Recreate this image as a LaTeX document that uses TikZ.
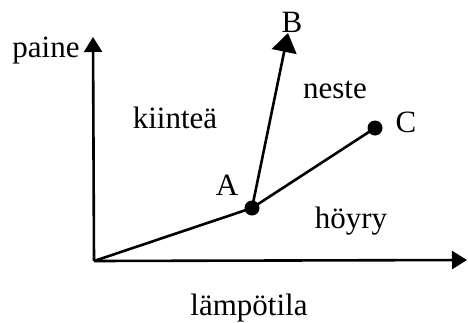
\documentclass[tikz,border=0pt]{standalone}
\usepackage{fontspec}
\setmainfont{Liberation Serif}
\usetikzlibrary{arrows.meta}
\begin{document}
\begin{tikzpicture}[x=1pt,y=-1pt,
  lbl/.style={anchor=base,inner sep=0pt,font=\fontsize{31}{36}\selectfont},
  dot/.style={circle,fill=black,inner sep=0pt,minimum size=15pt},
  ax/.style={line width=2.6pt,-{Triangle[length=15pt,width=18pt]}},
  ln/.style={line width=2.6pt}]
\useasboundingbox (0,0) rectangle (468,322);
\coordinate (O) at (94,261);
\coordinate (Ytop) at (93,37);
\coordinate (Xend) at (467,260);
\coordinate (Btip) at (288,33);
\node[dot] (A) at (252,208) {};
\node[dot] (C) at (375,128) {};
\draw[ax] (O) -- (Ytop);
\draw[ax] (O) -- (Xend);
\draw[ln] (O) -- (A.center);
\draw[ln] (A.center) -- (C.center);
\draw[line width=2.6pt,-{Triangle[length=19pt,width=25pt]}] (A.center) -- (Btip);
\node[lbl] (paine) at (46,57) {paine};
\node[lbl] (kiintea) at (175,128) {kiinteä};
\node[lbl] (neste) at (335,98) {neste};
\node[lbl] (hoyry) at (351,228) {höyry};
\node[lbl] (lampo) at (249,315) {lämpötila};
\node[lbl] (lA) at (227,195) {A};
\node[lbl] (lB) at (292,32) {B};
\node[lbl] (lC) at (406,132) {C};
\end{tikzpicture}
\end{document}
